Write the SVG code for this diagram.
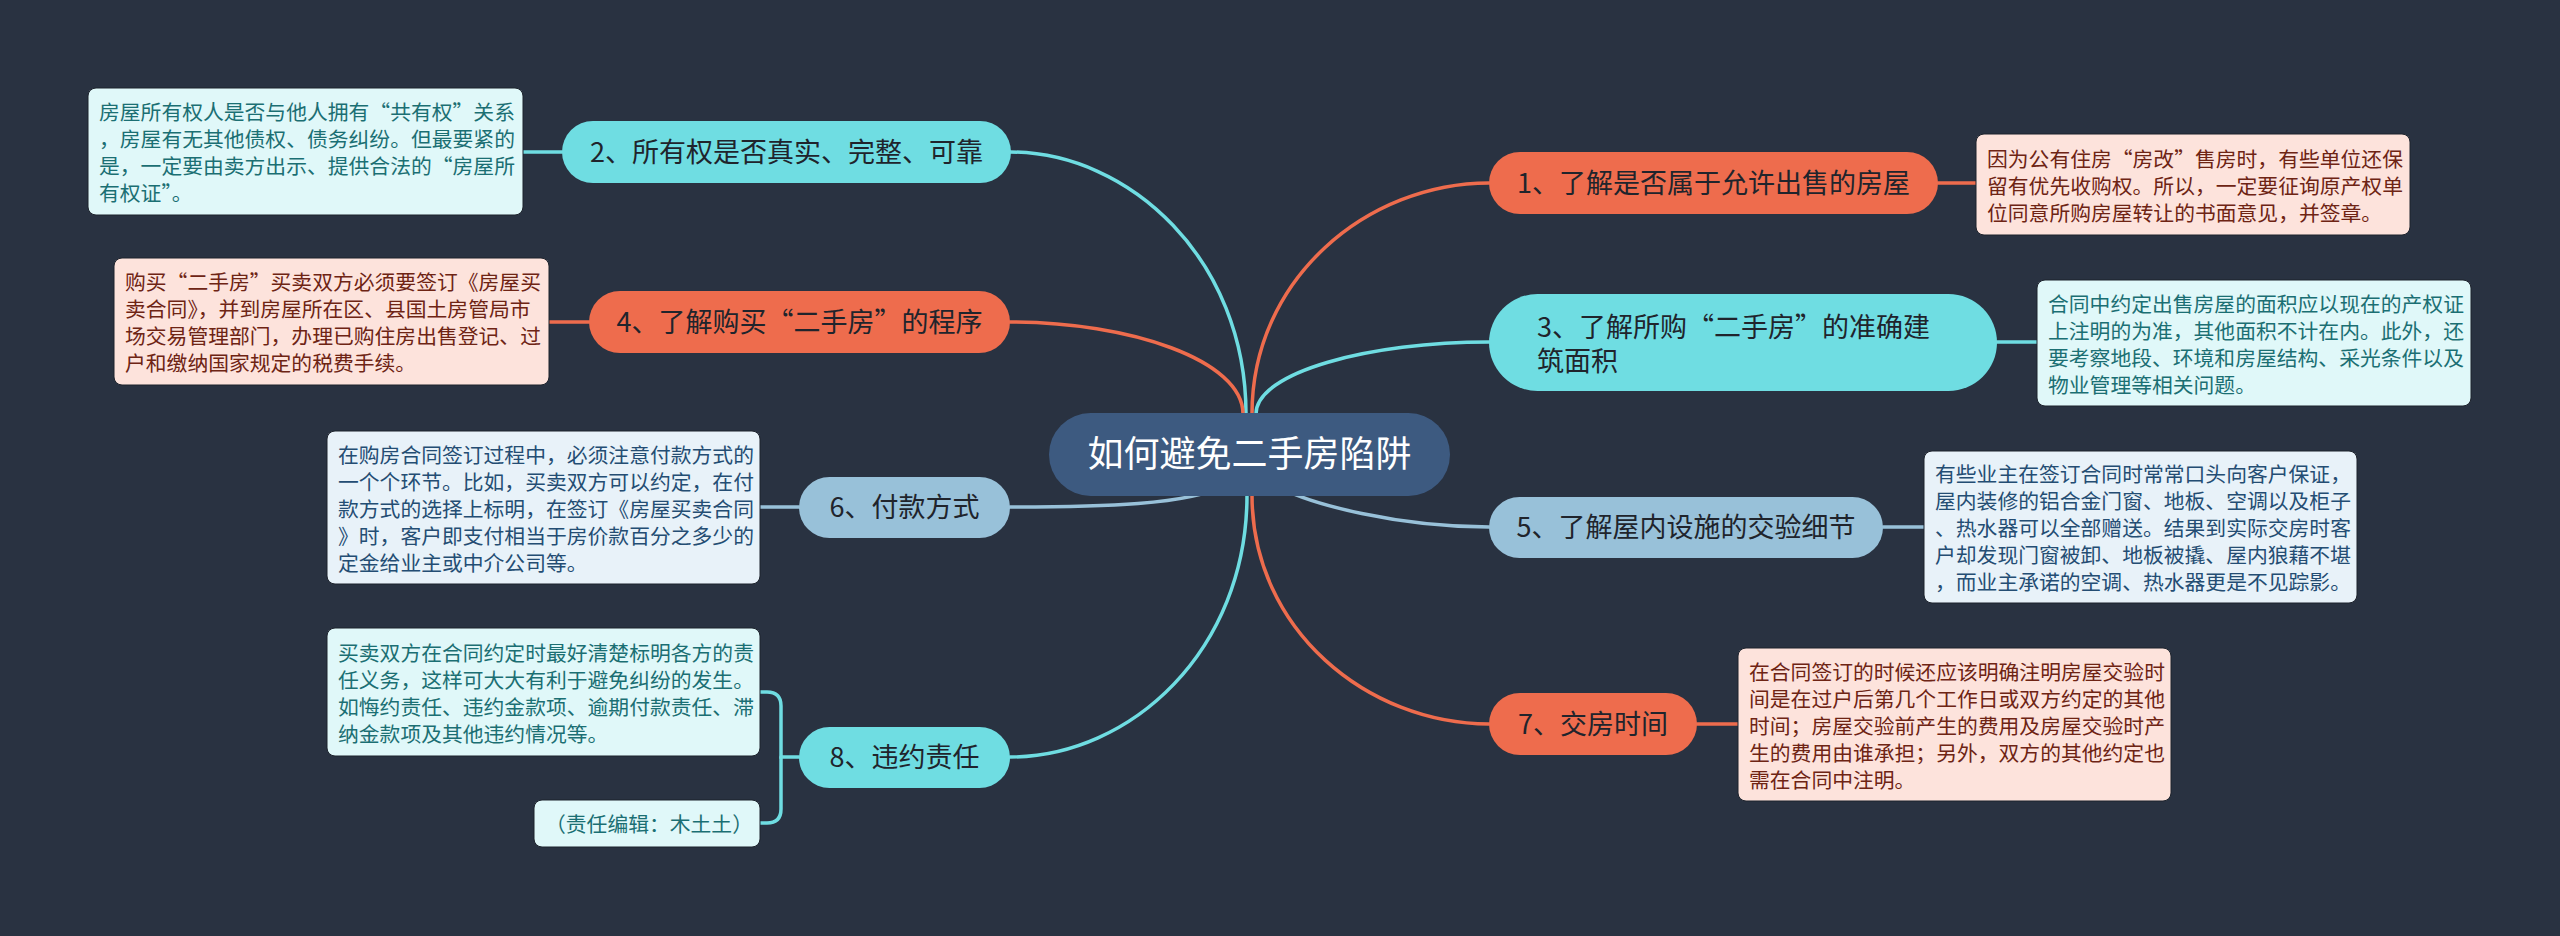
<svg xmlns="http://www.w3.org/2000/svg" width="2560" height="936" viewBox="0 0 2560 936">
<style>
.bg{fill:#293241}
.ln{fill:none;stroke-width:3.5;stroke-linecap:round}
.c{stroke:#6fdde2}.o{stroke:#ee6c4d}.b{stroke:#98c1d9}
.nt{font-family:"Noto Sans CJK SC","Noto Sans",sans-serif;font-size:27px;fill:#20242c}
.ct{font-family:"Noto Sans CJK SC","Noto Sans",sans-serif;font-size:36px;fill:#ffffff}
.bt{font-family:"Noto Sans CJK SC","Noto Sans",sans-serif;font-size:20.8px}
.fo{fill:#ee6c4d}.fc{fill:#6fdde2}.fb{fill:#98c1d9}
.bo{fill:#fde3dc;stroke:#1d232c;stroke-width:1}
.bc{fill:#e0f8f9;stroke:#1d232c;stroke-width:1}
.bb{fill:#e8f2f9;stroke:#1d232c;stroke-width:1}
.to{fill:#6e2414}.tc{fill:#1b6f73}.tb{fill:#244d73}
</style>
<rect class="bg" x="0" y="0" width="2560" height="936"/>
<g id="connectors">
<path class="ln c" d="M1246,414 C1246,260 1130,152 1010,152"/>
<path class="ln o" d="M1252,414 C1252,278 1368,183 1489,183"/>
<path class="ln o" d="M1243,414 C1243,360 1129,322 1010,322"/>
<path class="ln c" d="M1256,414 C1256,372 1370,342 1489,342"/>
<path class="ln c" d="M1247,495 C1247,650 1131,757 1010,757"/>
<path class="ln o" d="M1252,495 C1252,630 1368,724 1489,724"/>
<path class="ln b" d="M1225,485 C1190,505 1100,507 1010,507"/>
<path class="ln b" d="M1275,485 C1310,505 1400,527 1489,527"/>
<path class="ln o" d="M1938,183 H1976"/>
<path class="ln c" d="M562,152 H523"/>
<path class="ln c" d="M1997,342 H2037"/>
<path class="ln o" d="M589,322 H549"/>
<path class="ln b" d="M1883,527 H1924"/>
<path class="ln b" d="M799,507 H760"/>
<path class="ln o" d="M1697,724 H1738"/>
<path class="ln c" d="M799,757 H781 V706 Q781,692 767,692 H760"/>
<path class="ln c" d="M781,757 V809 Q781,823 767,823 H760"/>
</g>
<g id="center">
<rect x="1049" y="413" width="401" height="83" rx="41.5" fill="#3d5a80"/>
<text class="ct" x="1249.5" y="467" text-anchor="middle">如何避免二手房陷阱</text>
</g>
<g id="n1">
<rect class="fo" x="1489" y="152" width="449" height="62" rx="31"/>
<text class="nt" x="1713.5" y="192.5" text-anchor="middle">1、了解是否属于允许出售的房屋</text>
</g>
<g id="n2">
<rect class="fc" x="562" y="121" width="449" height="62" rx="31"/>
<text class="nt" x="786.5" y="161.5" text-anchor="middle">2、所有权是否真实、完整、可靠</text>
</g>
<g id="n3">
<rect class="fc" x="1489" y="294" width="508" height="97" rx="48.5"/>
<text class="nt" x="1537" y="337">3、了解所购“二手房”的准确建</text>
<text class="nt" x="1537" y="371">筑面积</text>
</g>
<g id="n4">
<rect class="fo" x="589" y="291" width="421" height="62" rx="31"/>
<text class="nt" x="799.5" y="331.5" text-anchor="middle">4、了解购买“二手房”的程序</text>
</g>
<g id="n5">
<rect class="fb" x="1489" y="497" width="394" height="61" rx="30.5"/>
<text class="nt" x="1686" y="537" text-anchor="middle">5、了解屋内设施的交验细节</text>
</g>
<g id="n6">
<rect class="fb" x="799" y="477" width="211" height="61" rx="30.5"/>
<text class="nt" x="904.5" y="517" text-anchor="middle">6、付款方式</text>
</g>
<g id="n7">
<rect class="fo" x="1489" y="693" width="208" height="62" rx="31"/>
<text class="nt" x="1593" y="733.5" text-anchor="middle">7、交房时间</text>
</g>
<g id="n8">
<rect class="fc" x="799" y="727" width="211" height="61" rx="30.5"/>
<text class="nt" x="904.5" y="767" text-anchor="middle">8、违约责任</text>
</g>
<g id="b1">
<rect class="bo" x="1976" y="134" width="434" height="101" rx="8"/>
<text class="bt to" x="1987" y="166.5">因为公有住房“房改”售房时，有些单位还保</text>
<text class="bt to" x="1987" y="193.5">留有优先收购权。所以，一定要征询原产权单</text>
<text class="bt to" x="1987" y="220.5">位同意所购房屋转让的书面意见，并签章。</text>
</g>
<g id="b2">
<rect class="bc" x="88" y="88" width="435" height="127" rx="8"/>
<text class="bt tc" x="99" y="120">房屋所有权人是否与他人拥有“共有权”关系</text>
<text class="bt tc" x="99" y="147">，房屋有无其他债权、债务纠纷。但最要紧的</text>
<text class="bt tc" x="99" y="174">是，一定要由卖方出示、提供合法的“房屋所</text>
<text class="bt tc" x="99" y="201">有权证”。</text>
</g>
<g id="b3">
<rect class="bc" x="2037" y="280" width="434" height="126" rx="8"/>
<text class="bt tc" x="2048" y="311.5">合同中约定出售房屋的面积应以现在的产权证</text>
<text class="bt tc" x="2048" y="338.5">上注明的为准，其他面积不计在内。此外，还</text>
<text class="bt tc" x="2048" y="365.5">要考察地段、环境和房屋结构、采光条件以及</text>
<text class="bt tc" x="2048" y="392.5">物业管理等相关问题。</text>
</g>
<g id="b4">
<rect class="bo" x="114" y="258" width="435" height="127" rx="8"/>
<text class="bt to" x="125" y="290">购买“二手房”买卖双方必须要签订《房屋买</text>
<text class="bt to" x="125" y="317">卖合同》，并到房屋所在区、县国土房管局市</text>
<text class="bt to" x="125" y="344">场交易管理部门，办理已购住房出售登记、过</text>
<text class="bt to" x="125" y="371">户和缴纳国家规定的税费手续。</text>
</g>
<g id="b5">
<rect class="bb" x="1924" y="451" width="433" height="152" rx="8"/>
<text class="bt tb" x="1935" y="482">有些业主在签订合同时常常口头向客户保证，</text>
<text class="bt tb" x="1935" y="509">屋内装修的铝合金门窗、地板、空调以及柜子</text>
<text class="bt tb" x="1935" y="536">、热水器可以全部赠送。结果到实际交房时客</text>
<text class="bt tb" x="1935" y="563">户却发现门窗被卸、地板被撬、屋内狼藉不堪</text>
<text class="bt tb" x="1935" y="590">，而业主承诺的空调、热水器更是不见踪影。</text>
</g>
<g id="b6">
<rect class="bb" x="327" y="431" width="433" height="153" rx="8"/>
<text class="bt tb" x="338" y="462.5">在购房合同签订过程中，必须注意付款方式的</text>
<text class="bt tb" x="338" y="489.5">一个个环节。比如，买卖双方可以约定，在付</text>
<text class="bt tb" x="338" y="516.5">款方式的选择上标明，在签订《房屋买卖合同</text>
<text class="bt tb" x="338" y="543.5">》时，客户即支付相当于房价款百分之多少的</text>
<text class="bt tb" x="338" y="570.5">定金给业主或中介公司等。</text>
</g>
<g id="b7">
<rect class="bo" x="1738" y="648" width="433" height="153" rx="8"/>
<text class="bt to" x="1749" y="679.5">在合同签订的时候还应该明确注明房屋交验时</text>
<text class="bt to" x="1749" y="706.5">间是在过户后第几个工作日或双方约定的其他</text>
<text class="bt to" x="1749" y="733.5">时间；房屋交验前产生的费用及房屋交验时产</text>
<text class="bt to" x="1749" y="760.5">生的费用由谁承担；另外，双方的其他约定也</text>
<text class="bt to" x="1749" y="787.5">需在合同中注明。</text>
</g>
<g id="b8a">
<rect class="bc" x="327" y="628" width="433" height="128" rx="8"/>
<text class="bt tc" x="338" y="660.5">买卖双方在合同约定时最好清楚标明各方的责</text>
<text class="bt tc" x="338" y="687.5">任义务，这样可大大有利于避免纠纷的发生。</text>
<text class="bt tc" x="338" y="714.5">如悔约责任、违约金款项、逾期付款责任、滞</text>
<text class="bt tc" x="338" y="741.5">纳金款项及其他违约情况等。</text>
</g>
<g id="b8b">
<rect class="bc" x="534" y="800" width="226" height="47" rx="8"/>
<text class="bt tc" x="545" y="832">（责任编辑：木土土）</text>
</g>
</svg>
